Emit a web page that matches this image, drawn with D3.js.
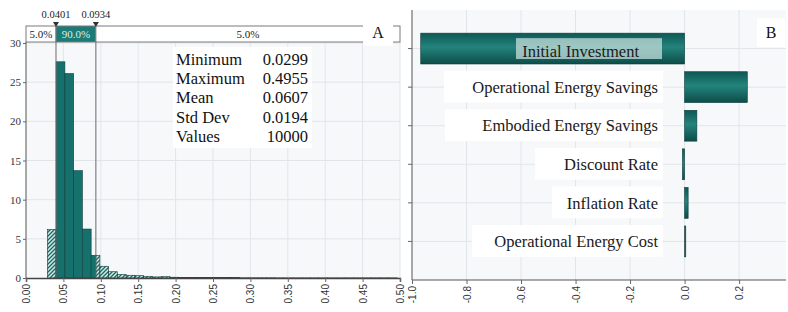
<!DOCTYPE html>
<html>
<head>
<meta charset="utf-8">
<script src="https://cdn.jsdelivr.net/npm/d3@7"></script>
<style>
  body { margin:0; background:#fff; }
  svg { display:block; }
  .serif { font-family: "Liberation Serif", "DejaVu Serif", serif; }
  .sans { font-family: "Liberation Sans", "DejaVu Sans", sans-serif; }
</style>
</head>
<body>
<script>
// ---- panel A : histogram data ----
var binStart = 0.0286
var binWidth = 0.0117
var binHeights = [6.2, 27.6, 26.1, 13.7, 6.25, 2.9, 1.5, 0.8, 0.45, 0.35,
                  0.3, 0.22, 0.14, 0.17, 0.1, 0.08, 0.07, 0.06, 0.05, 0.05,
                  0.04, 0.04, 0.03, 0.03, 0.03, 0.03, 0.02, 0.02, 0.02, 0.02,
                  0.02, 0.02, 0.02, 0.02, 0.02, 0.02, 0.02, 0.02, 0.02, 0.02]
var lowCut = 0.0401
var highCut = 0.0934
var bandLabels = ["5.0%", "90.0%", "5.0%"]
var xTicksA = [0, 0.05, 0.10, 0.15, 0.20, 0.25, 0.30, 0.35, 0.40, 0.45, 0.50]
var yTicksA = [0, 5, 10, 15, 20, 25, 30]
var statNames = ["Minimum", "Maximum", "Mean", "Std Dev", "Values"]
var statValues = ["0.0299", "0.4955", "0.0607", "0.0194", "10000"]

// ---- panel B : tornado data ----
var inputs = ["Initial Investment", "Operational Energy Savings", "Embodied Energy Savings",
              "Discount Rate", "Inflation Rate", "Operational Energy Cost"]
var coeffs = [-0.968, 0.23, 0.045, -0.008, 0.013, 0.001]
var xTicksB = [-1.0, -0.8, -0.6, -0.4, -0.2, 0.0, 0.2]

var teal = "#16706b"
var dark = "#0b3f3c"
var gridCol = "#e1e5ea"

var svg = d3.select("body").append("svg")
    .attr("width", 788).attr("height", 312)

var defs = svg.append("defs")
var hatch = defs.append("pattern")
    .attr("id", "hatch").attr("patternUnits", "userSpaceOnUse")
    .attr("width", 4).attr("height", 4)
hatch.append("rect").attr("width", 4).attr("height", 4).attr("fill", "#d3e6e4")
hatch.append("path").attr("d", "M-1,1 l2,-2 M0,4 l4,-4 M3,5 l2,-2")
    .attr("stroke", "#1a6a65").attr("stroke-width", 1.3)

var grad = defs.append("linearGradient").attr("id", "barGrad")
    .attr("x1", 0).attr("x2", 0).attr("y1", 0).attr("y2", 1)
grad.append("stop").attr("offset", "0%").attr("stop-color", "#0f5754")
grad.append("stop").attr("offset", "45%").attr("stop-color", "#23847d")
grad.append("stop").attr("offset", "100%").attr("stop-color", "#0d4c49")

var makeTranslateString = function(x, y) { return "translate(" + x + "," + y + ")" }

//================= PANEL A =================
var drawPanelA = function() {
    var x = d3.scaleLinear().domain([0, 0.5]).range([26, 400])
    var y = d3.scaleLinear().domain([0, 30]).range([278, 43])
    var top = 42

    var g = svg.append("g")
    g.append("rect").attr("x", 26).attr("y", top).attr("width", 374).attr("height", 278 - top)
        .attr("fill", "#f7f8fa")

    // grid
    g.selectAll(".vg").data(xTicksA.slice(1)).enter().append("line")
        .attr("x1", d => x(d)).attr("x2", d => x(d)).attr("y1", top).attr("y2", 278)
        .attr("stroke", gridCol)
    g.selectAll(".hg").data(yTicksA.slice(1)).enter().append("line")
        .attr("x1", 26).attr("x2", 400).attr("y1", d => y(d)).attr("y2", d => y(d))
        .attr("stroke", gridCol)

    // bars, split at the 5% / 95% cuts
    var pieces = []
    binHeights.forEach(function(h, i) {
        var x0 = binStart + i * binWidth, x1 = x0 + binWidth
        var cuts = [x0, Math.max(x0, Math.min(x1, lowCut)), Math.max(x0, Math.min(x1, highCut)), x1]
        for (var k = 0; k < 3; k++) {
            if (cuts[k + 1] - cuts[k] > 1e-6)
                pieces.push({x0: cuts[k], x1: cuts[k + 1], h: h, solid: k == 1})
        }
    })
    g.selectAll(".bar").data(pieces).enter().append("rect")
        .attr("x", d => x(d.x0)).attr("width", d => x(d.x1) - x(d.x0))
        .attr("y", d => y(d.h)).attr("height", d => y(0) - y(d.h))
        .attr("fill", d => d.solid ? teal : "url(#hatch)")
        .attr("stroke", dark).attr("stroke-width", 0.6)

    // cut lines
    g.selectAll(".cut").data([lowCut, highCut]).enter().append("line")
        .attr("x1", d => x(d)).attr("x2", d => x(d)).attr("y1", 26).attr("y2", 278)
        .attr("stroke", "#6b6b6b").attr("stroke-width", 1)

    // percentile band
    var segs = [[0, lowCut], [lowCut, highCut], [highCut, 0.5]]
    g.selectAll(".seg").data(segs).enter().append("rect")
        .attr("x", d => x(d[0])).attr("width", d => x(d[1]) - x(d[0]))
        .attr("y", 26).attr("height", 16)
        .attr("fill", (d, i) => i == 1 ? "#1c7b74" : "#fff")
        .attr("stroke", "#7a7a7a").attr("stroke-width", 1)
    g.selectAll(".segt").data(segs).enter().append("text").attr("class", "serif")
        .attr("x", (d, i) => i == 2 ? 248 : (x(d[0]) + x(d[1])) / 2).attr("y", 38)
        .attr("text-anchor", "middle").attr("font-size", 11)
        .attr("fill", (d, i) => i == 1 ? "#d8efec" : "#222")
        .text((d, i) => bandLabels[i])
    g.selectAll(".tri").data([lowCut, highCut]).enter().append("path")
        .attr("d", d => "M" + (x(d) - 3) + ",22 h6 l-3,5 z").attr("fill", "#333")
    g.selectAll(".cutt").data([lowCut, highCut]).enter().append("text").attr("class", "serif")
        .attr("x", d => x(d)).attr("y", 18).attr("text-anchor", "middle")
        .attr("font-size", 10.5).attr("fill", "#222")
        .text(d => d.toFixed(4))

    // "A" label
    g.append("rect").attr("x", 363).attr("y", 20).attr("width", 30).attr("height", 26).attr("fill", "#fff")
    g.append("text").attr("class", "serif").attr("x", 378).attr("y", 38).attr("text-anchor", "middle")
        .attr("font-size", 16).attr("fill", "#111").text("A")

    // stats box
    g.append("rect").attr("x", 173).attr("y", 47).attr("width", 139).attr("height", 101).attr("fill", "#fff")
    g.selectAll(".sn").data(statNames).enter().append("text").attr("class", "serif")
        .attr("x", 176).attr("y", (d, i) => 65 + i * 19.2)
        .attr("font-size", 16.5).attr("fill", "#111").text(d => d)
    g.selectAll(".sv").data(statValues).enter().append("text").attr("class", "serif")
        .attr("x", 308).attr("y", (d, i) => 65 + i * 19.2).attr("text-anchor", "end")
        .attr("font-size", 16.5).attr("fill", "#111").text(d => d)

    // axes
    var xAxis = d3.axisBottom(x).tickValues(xTicksA).tickFormat(d3.format(".2f")).tickSize(4)
    var ax = g.append("g").attr("transform", makeTranslateString(0, 278)).call(xAxis)
    ax.attr("font-family", null)
    ax.select(".domain").attr("stroke", "#444").attr("stroke-width", 1.5)
    ax.selectAll("line").attr("stroke", "#666")
    ax.selectAll("text").attr("class", "sans").attr("transform", "rotate(-90)").attr("text-anchor", "end")
        .attr("x", -6).attr("y", 0).attr("dy", "0.35em")
        .attr("font-size", 10).attr("fill", "#333")

    var yAxis = d3.axisLeft(y).tickValues(yTicksA).tickSize(3)
    var ay = g.append("g").attr("transform", makeTranslateString(26, 0)).call(yAxis)
    ay.attr("font-family", null)
    ay.select(".domain").attr("d", "M0," + top + "V278").attr("stroke", "#555")
    ay.selectAll("line").attr("stroke", "#666")
    ay.selectAll("text").attr("class", "serif").attr("font-size", 11).attr("fill", "#333").attr("x", -5)
}

//================= PANEL B =================
var drawPanelB = function() {
    var x = d3.scaleLinear().domain([-1.0, 0.372]).range([412, 786])
    var y = d3.scaleBand().domain(inputs).range([10, 280]).paddingInner(0.2).paddingOuter(0.6)
    var g = svg.append("g")

    g.append("rect").attr("x", 412).attr("y", 10).attr("width", 374).attr("height", 270)
        .attr("fill", "#f7f8fa")
    g.selectAll(".vg").data(xTicksB.slice(1)).enter().append("line")
        .attr("x1", d => x(d)).attr("x2", d => x(d)).attr("y1", 10).attr("y2", 280)
        .attr("stroke", gridCol)
    g.selectAll(".hg").data(inputs).enter().append("line")
        .attr("x1", 412).attr("x2", 786)
        .attr("y1", d => y(d) + y.bandwidth() / 2).attr("y2", d => y(d) + y.bandwidth() / 2)
        .attr("stroke", gridCol)

    // label boxes (behind bars except the first)
    var boxLeft = [516, 444, 445, 535, 552, 472]
    g.selectAll(".lb").data(inputs).enter().filter((d, i) => i > 0).append("rect")
        .attr("x", (d, i) => boxLeft[i + 1]).attr("width", (d, i) => 663 - boxLeft[i + 1])
        .attr("y", d => y(d) - 1).attr("height", y.bandwidth() + 1)
        .attr("fill", "#fff")

    g.selectAll(".bar").data(inputs).enter().append("rect")
        .attr("x", (d, i) => x(Math.min(0, coeffs[i])))
        .attr("width", (d, i) => Math.max(1.2, Math.abs(x(coeffs[i]) - x(0))))
        .attr("y", d => y(d)).attr("height", y.bandwidth())
        .attr("fill", (d, i) => i == 5 ? "#444" : "url(#barGrad)")
        .attr("stroke", dark).attr("stroke-width", 0.6)

    g.append("rect").attr("x", boxLeft[0]).attr("width", 662 - boxLeft[0])
        .attr("y", y(inputs[0]) + 5).attr("height", y.bandwidth() - 10)
        .attr("fill", "#c6dedb").attr("opacity", 0.75)

    g.selectAll(".lt").data(inputs).enter().append("text").attr("class", "serif")
        .attr("x", (d, i) => i == 0 ? 639 : 658)
        .attr("y", (d, i) => y(d) + y.bandwidth() / 2 + (i == 0 ? 3 : 0)).attr("dy", "0.35em")
        .attr("text-anchor", "end").attr("font-size", 16.5)
        .attr("fill", "#1a1a1a").text(d => d)

    // "B" label
    g.append("rect").attr("x", 757).attr("y", 18).attr("width", 28).attr("height", 29).attr("fill", "#fff")
    g.append("text").attr("class", "serif").attr("x", 771).attr("y", 38).attr("text-anchor", "middle")
        .attr("font-size", 16).attr("fill", "#111").text("B")

    var xAxis = d3.axisBottom(x).tickValues(xTicksB).tickFormat(d3.format(".1f")).tickSize(4)
    var ax = g.append("g").attr("transform", makeTranslateString(0, 280)).call(xAxis)
    ax.attr("font-family", null)
    ax.select(".domain").attr("d", "M412,0H786").attr("stroke", "#555").attr("stroke-width", 1.2)
    ax.selectAll("line").attr("stroke", "#666")
    ax.selectAll("text").attr("class", "sans").attr("transform", "rotate(-90)").attr("text-anchor", "end")
        .attr("x", -6).attr("y", 0).attr("dy", "0.35em")
        .attr("font-size", 10).attr("fill", "#333")
        .text(d => d3.format(".1f")(d).replace("−", "-"))

    var yAxis = d3.axisLeft(y).tickSize(4).tickFormat("")
    var ay = g.append("g").attr("transform", makeTranslateString(412, 0)).call(yAxis)
    ay.select(".domain").attr("d", "M0,10V280").attr("stroke", "#555")
    ay.selectAll("line").attr("stroke", "#666")
}

drawPanelA()
drawPanelB()
</script>
</body>
</html>
